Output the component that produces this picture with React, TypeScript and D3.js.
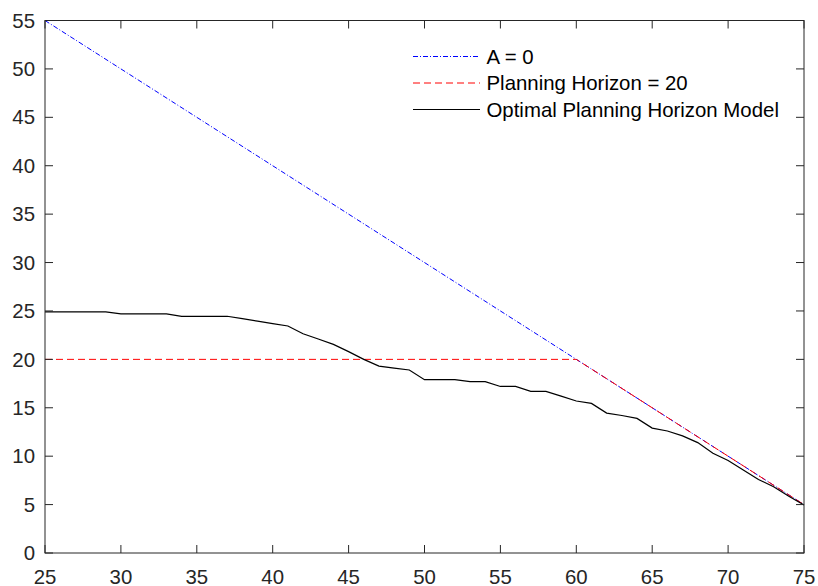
import React from "react";
import * as d3 from "d3";

// Age at which the horizon is evaluated
const ages: number[] = d3.range(25, 76);

// Optimal planning horizon model, one value per age 25..75
const optimalHorizon: number[] = [
  24.9, 24.9, 24.9, 24.9, 24.9, 24.7, 24.7, 24.7, 24.7, 24.45,
  24.45, 24.45, 24.45, 24.2, 23.95, 23.7, 23.45, 22.65, 22.1, 21.55,
  20.8, 20.0, 19.3, 19.1, 18.9, 17.9, 17.9, 17.9, 17.7, 17.7,
  17.2, 17.2, 16.7, 16.7, 16.2, 15.7, 15.45, 14.45, 14.2, 13.9,
  12.9, 12.6, 12.1, 11.4, 10.3, 9.55, 8.57, 7.6, 6.85, 5.85,
  4.95,
];

// A = 0 reference line endpoints
const zeroAges: number[] = [25, 75];
const zeroValues: number[] = [55, 5];

// Planning horizon = 20 (capped by remaining years)
const fixedAges: number[] = [25, 60, 75];
const fixedValues: number[] = [20, 20, 5];

const xTicks: number[] = [25, 30, 35, 40, 45, 50, 55, 60, 65, 70, 75];
const yTicks: number[] = [0, 5, 10, 15, 20, 25, 30, 35, 40, 45, 50, 55];

const legendLabels: string[] = ["A = 0", "Planning Horizon = 20", "Optimal Planning Horizon Model"];

const W = 818;
const H = 586;
const margin = { left: 45, right: 14, top: 20.5, bottom: 33 };
const FONT = "'Liberation Sans', Arial, Helvetica, sans-serif";
const AXIS = "#262626";
const FS = 20.4;

export default function App() {
  const x = d3.scaleLinear().domain([25, 75]).range([margin.left, W - margin.right]);
  const y = d3.scaleLinear().domain([0, 55]).range([H - margin.bottom, margin.top]);
  const [x0, x1] = x.range();
  const [y0, y1] = y.range();
  const tick = 8;

  const line = d3.line<[number, number]>().x((d) => x(d[0])).y((d) => y(d[1]));
  const zeroPath = line(zeroAges.map((a, i) => [a, zeroValues[i]]))!;
  const fixedPath = line(fixedAges.map((a, i) => [a, fixedValues[i]]))!;
  const optPath = line(ages.map((a, i) => [a, optimalHorizon[i]]))!;

  const styles = [
    { stroke: "#0000ff", dash: "5,2,1,2" },
    { stroke: "#ff0000", dash: "7,4" },
    { stroke: "#000000", dash: undefined as string | undefined },
  ];

  return (
    <svg
      width={W}
      height={H}
      style={{ position: "absolute", left: 0, top: 0, background: "#fff" }}
      fontFamily={FONT}
    >
      <rect x={0} y={0} width={W} height={H} fill="#fff" />
      <defs>
        <clipPath id="plotclip">
          <rect x={x0} y={y1 - 1} width={x1 - x0 + 1} height={y0 - y1 + 2} />
        </clipPath>
      </defs>
      <g clipPath="url(#plotclip)">
        <path d={zeroPath} fill="none" stroke={styles[0].stroke} strokeWidth={1} strokeDasharray={styles[0].dash} />
        <path d={fixedPath} fill="none" stroke={styles[1].stroke} strokeWidth={1} strokeDasharray={styles[1].dash} />
        <path d={optPath} fill="none" stroke={styles[2].stroke} strokeWidth={1.2} />
      </g>

      {/* axes box */}
      <rect x={x0} y={y1} width={x1 - x0} height={y0 - y1} fill="none" stroke={AXIS} strokeWidth={1} />

      {xTicks.map((t) => (
        <g key={"x" + t}>
          <line x1={x(t)} x2={x(t)} y1={y0} y2={y0 - tick} stroke={AXIS} />
          <line x1={x(t)} x2={x(t)} y1={y1} y2={y1 + tick} stroke={AXIS} />
          <text x={x(t)} y={y0 + 30.5} textAnchor="middle" fontSize={FS} fill={AXIS}>
            {t}
          </text>
        </g>
      ))}
      {yTicks.map((t) => (
        <g key={"y" + t}>
          <line x1={x0} x2={x0 + tick} y1={y(t)} y2={y(t)} stroke={AXIS} />
          <line x1={x1} x2={x1 - tick} y1={y(t)} y2={y(t)} stroke={AXIS} />
          <text x={x0 - 10} y={y(t)} dy="0.35em" textAnchor="end" fontSize={FS} fill={AXIS}>
            {t}
          </text>
        </g>
      ))}

      {/* legend */}
      <g>
        {legendLabels.map((label, i) => {
          const ly = 56.5 + i * 26.5;
          return (
            <g key={label}>
              <line
                x1={413}
                x2={480}
                y1={ly}
                y2={ly}
                stroke={styles[i].stroke}
                strokeWidth={1}
                strokeDasharray={styles[i].dash}
              />
              <text x={486.5} y={ly} dy="0.35em" fontSize={FS} fill="#000">
                {label}
              </text>
            </g>
          );
        })}
      </g>
    </svg>
  );
}
